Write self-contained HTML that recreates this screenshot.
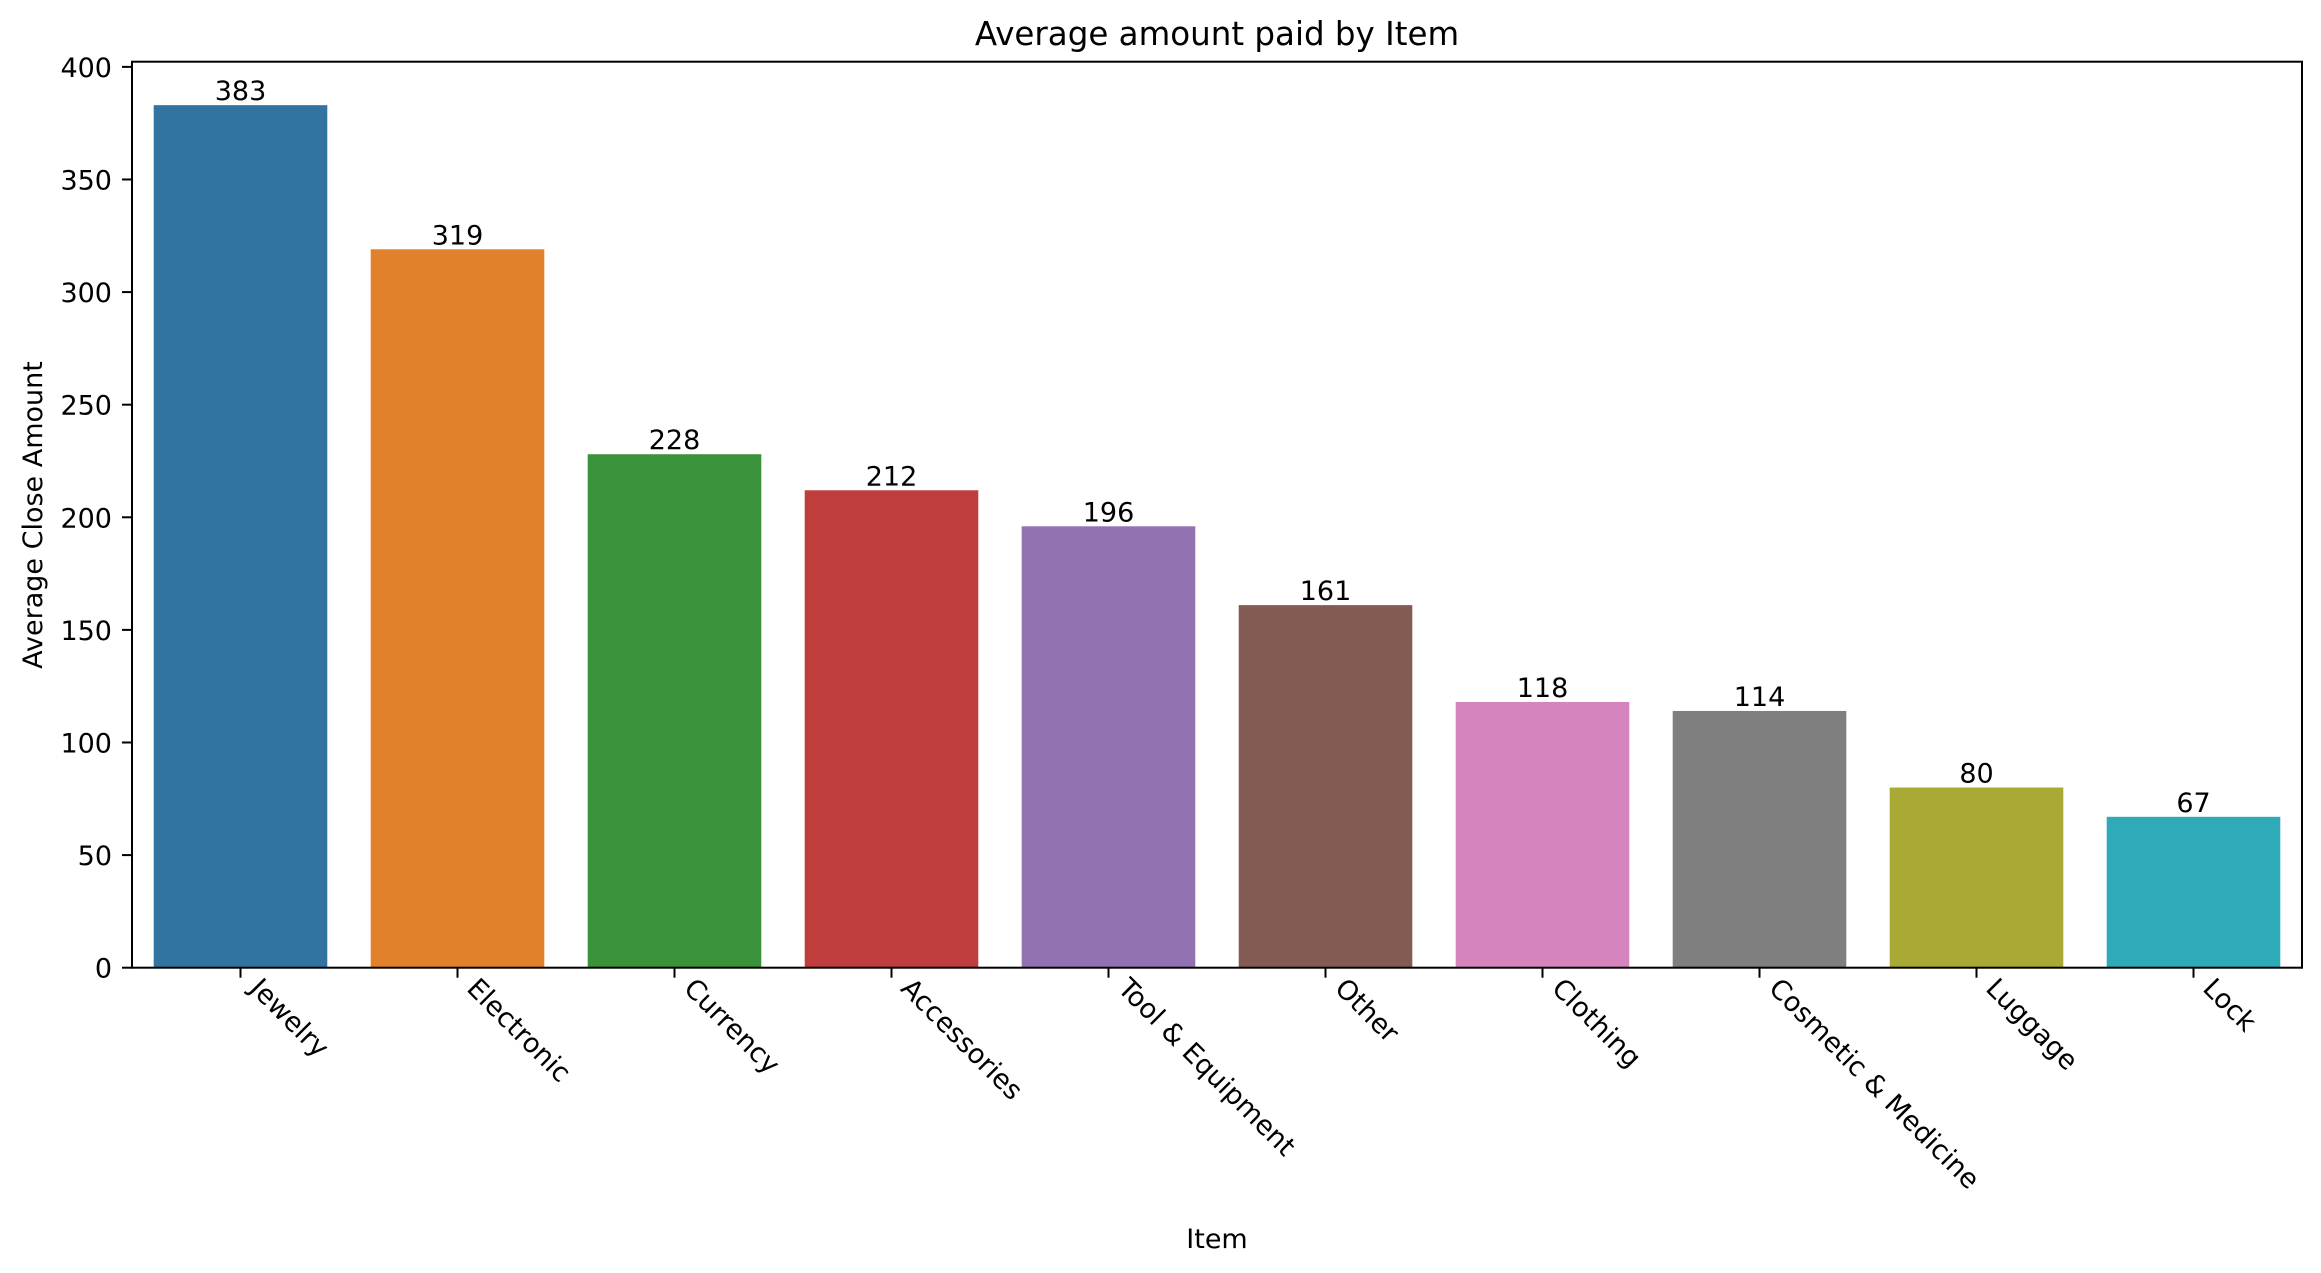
<!DOCTYPE html>
<html><head><meta charset="utf-8"><style>
body{margin:0;background:#fff;}
svg{display:block;font-family:"DejaVu Sans","Liberation Sans",sans-serif;}
</style></head><body>
<svg id="chart" width="2321" height="1273" viewBox="0 0 2321 1273">
<rect width="2321" height="1273" fill="#fff"/>
<text x="1217" y="45" font-size="32.5" text-anchor="middle">Average amount paid by Item</text>
<text x="1217" y="1248" font-size="27" text-anchor="middle">Item</text>
<text transform="translate(42,515) rotate(-90)" font-size="27" text-anchor="middle">Average Close Amount</text>
<g id="bars"></g><g id="yticks"></g><g id="xticks"></g>
<rect x="132" y="61.7" width="2170" height="906" fill="none" stroke="#000" stroke-width="2"/>
</svg>
<script>
const categories=["Jewelry","Electronic","Currency","Accessories","Tool & Equipment","Other","Clothing","Cosmetic & Medicine","Luggage","Lock"];
const values=[383,319,228,212,196,161,118,114,80,67];
const valueLabels=["383","319","228","212","196","161","118","114","80","67"];
const yTicks=[0,50,100,150,200,250,300,350,400];
const colors=["#3274a1","#e1812c","#3a923a","#c03d3e","#9372b2","#845b53","#d684bd","#7f7f7f","#a9aa35","#2eaab8"];
const NS="http://www.w3.org/2000/svg";
const L=132,R=2302,T=61.7,B=967.7,YMAX=402.3;
const n=categories.length;
const step=(R-L)/n;
const xc=i=>L+step*(i+0.5);
const y=v=>B-(v/YMAX)*(B-T);
function mk(t,a,p){const e=document.createElementNS(NS,t);for(const k in a)e.setAttribute(k,a[k]);p.appendChild(e);return e;}
const gb=document.getElementById('bars'),gy=document.getElementById('yticks'),gx=document.getElementById('xticks');
values.forEach((v,i)=>{
  const w=step*0.8;
  const r=mk('rect',{x:xc(i)-w/2,y:y(v),width:w,height:B-y(v),fill:colors[i]},gb);
  
  
  const t=mk('text',{x:xc(i),y:y(v)-5,'font-size':27,'text-anchor':'middle'},gb);
  t.textContent=valueLabels[i];
  
  
});
yTicks.forEach(v=>{
  const l=mk('line',{x1:L-10,x2:L,y1:y(v),y2:y(v),stroke:'#000','stroke-width':2},gy);
  
  
  const t=mk('text',{x:L-20,y:y(v)+10,'font-size':27,'text-anchor':'end'},gy);
  t.textContent=v;
  
  
});
categories.forEach((c,i)=>{
  const x=xc(i);
  const l=mk('line',{x1:x,x2:x,y1:B,y2:B+10,stroke:'#000','stroke-width':2},gx);
  
  
  const t=mk('text',{'font-size':27},gx);
  t.textContent=c;
  
  
  const px=x+8, py=B+22;
  t.setAttribute('transform',`translate(${px},${py}) rotate(45)`);
});
</script>
</body></html>
